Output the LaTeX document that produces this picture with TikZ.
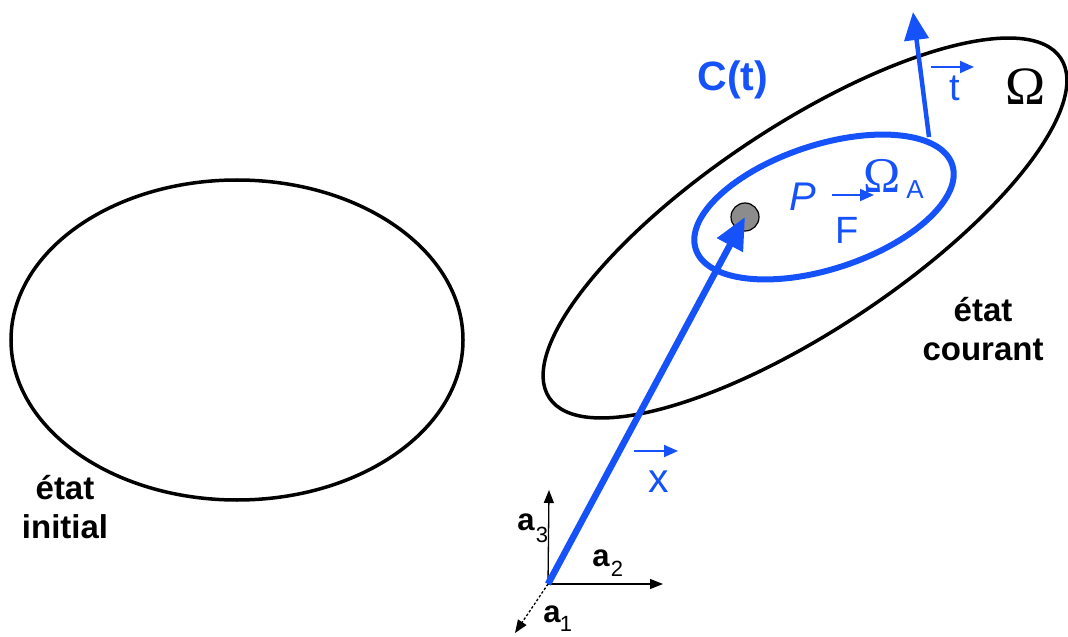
\documentclass[tikz,border=0pt]{standalone}
\usepackage{fontspec}
\setmainfont{Liberation Sans}
\newfontfamily\omfont{Liberation Serif}
\usetikzlibrary{arrows.meta}
\definecolor{vblue}{RGB}{22,82,250}
\definecolor{dotgray}{RGB}{140,140,140}
\newcommand{\fs}[1]{\fontsize{#1bp}{#1bp}\selectfont}
\tikzset{
  contour/.style={line width=3.5bp, black},
  bluecont/.style={line width=6bp, vblue},
  axis/.style={line width=1.3bp, black, -{Triangle[length=13bp,width=10bp]}},
  vecarrow/.style={line width=2bp, vblue, -{Triangle[length=14bp,width=12bp]}},
  lbl/.style={inner sep=0pt, text=vblue},
  blk/.style={inner sep=0pt, text=black, font=\bfseries\fs{33}, align=center}
}
\begin{document}
\begin{tikzpicture}[x=1bp,y=-1bp]
\useasboundingbox (0,0) rectangle (1068,637);
% contours
\draw[contour] (237,340) ellipse [x radius=226, y radius=160];
\draw[contour, rotate around={33.6:(805,228)}] (805,228) ellipse [x radius=307, y radius=102];
\draw[bluecont, rotate around={18.2:(824,207)}] (824,207) ellipse [x radius=135, y radius=62];
% axes
\coordinate (O) at (548,584);
\coordinate (A3) at (549,490);
\coordinate (A2) at (663,584);
\coordinate (A1) at (515,633);
\draw[axis] (O) -- (A3);
\draw[axis] (O) -- (A2);
\draw[axis, dashed, dash pattern=on 2.5bp off 2bp] (O) -- (A1);
% particle
\node[circle, fill=dotgray, draw=black, line width=1.2bp, minimum size=28bp, inner sep=0pt] (P0) at (745,217) {};
\draw[line width=6.5bp, vblue, -{Triangle[length=32bp,width=28bp]}] (O) -- (P0.center);
% traction vector
\coordinate (T0) at (929,137);
\coordinate (T1) at (913,12);
\draw[line width=4.5bp, vblue, -{Triangle[length=28bp,width=24bp]}] (T0) -- (T1);
% small vectors
\coordinate (ts) at (931,67); \coordinate (te) at (974,67);
\draw[vecarrow] (ts) -- (te);
\coordinate (fs) at (832,195); \coordinate (fe) at (874,195);
\draw[vecarrow] (fs) -- (fe);
\coordinate (xs) at (634,451); \coordinate (xe) at (678,451);
\draw[vecarrow] (xs) -- (xe);
% labels
\node[lbl, font=\bfseries\fs{41}] (Ct) at (733,80) {C(t)};
\node[lbl, font=\fs{38}] (tl) at (955,88) {t};
\node[inner sep=0pt, font=\omfont\fs{54}] (Om) at (1026,87) {Ω};
\node[lbl, font=\itshape\fs{40}] (Pl) at (803,197) {P};
\node[lbl, font=\fs{38}] (Fl) at (847,230) {F};
\node[lbl, font=\omfont\fs{50}] (OmA) at (882,176) {Ω};
\node[lbl, font=\fs{26}] (Al) at (915,190) {A};
\node[lbl, font=\fs{41}] (xl) at (659,482) {x};
% axis labels
\node[inner sep=0pt, font=\bfseries\fs{31}] (a3) at (526,522) {a};
\node[inner sep=0pt, font=\fs{22}] (s3) at (542,535) {3};
\node[inner sep=0pt, font=\bfseries\fs{31}] (a2) at (601,558) {a};
\node[inner sep=0pt, font=\fs{22}] (s2) at (617,569) {2};
\node[inner sep=0pt, font=\bfseries\fs{31}] (a1) at (552,614) {a};
\node[inner sep=0pt, font=\fs{22}] (s1) at (566,624) {1};
% state labels
\node[blk] (ini) at (65,507) {état\\[6bp]initial};
\node[blk] (cou) at (983,329) {état\\[6bp]courant};
\end{tikzpicture}
\end{document}
